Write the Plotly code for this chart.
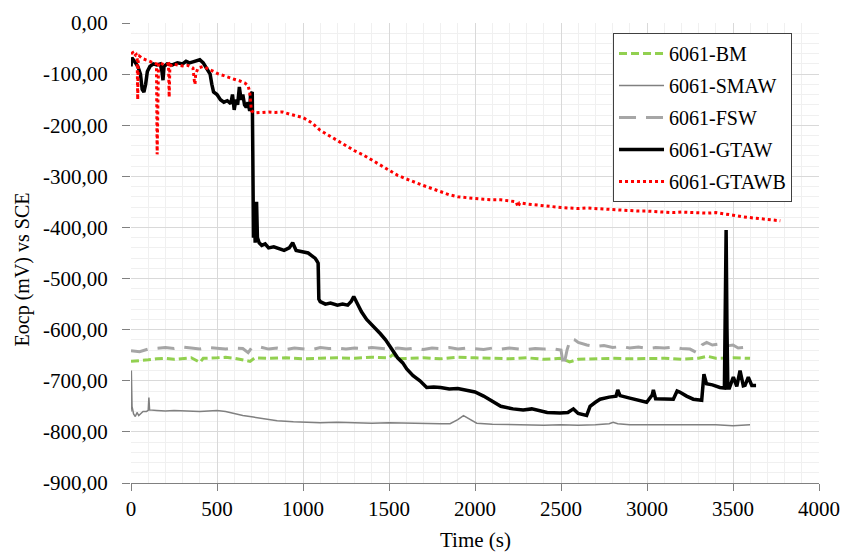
import plotly.graph_objects as go

# ---------------- data ----------------
bm_t = [0, 50, 100, 150, 200, 250, 300, 350, 401, 420, 500, 550, 600, 692, 720, 800, 900, 1000, 1100, 1200,
        1300, 1400, 1500, 1525, 1550, 1600, 1700, 1800, 1900, 2000, 2100, 2200, 2300, 2400, 2500, 2550, 2600,
        2700, 2800, 2900, 3000, 3100, 3200, 3300, 3350, 3400, 3500, 3599]
bm_v = [-662, -661, -659, -657, -656, -658, -656, -655, -664, -656, -655, -654, -656, -662, -655, -656, -655,
        -657, -656, -655, -656, -654, -655, -648, -657, -656, -655, -657, -654, -655, -656, -657, -655, -658,
        -656, -663, -658, -657, -656, -657, -657, -656, -658, -656, -652, -656, -655, -656]

smaw_t = [0, 2, 6, 15, 25, 35, 45, 55, 70, 90, 100, 104, 108, 150, 200, 250, 300, 350, 400, 450, 500, 550,
          600, 650, 711, 780, 850, 944, 1000, 1100, 1200, 1300, 1400, 1500, 1600, 1700, 1800, 1855, 1900, 1933,
          1970, 2010, 2100, 2200, 2300, 2400, 2500, 2600, 2700, 2780, 2803, 2830, 2900, 3000, 3100, 3200, 3300,
          3400, 3500, 3550, 3599]
smaw_v = [-760, -680, -750, -765, -770, -762, -768, -765, -760, -760, -758, -733, -757, -758, -759, -758, -759,
          -760, -760, -759, -758, -760, -764, -768, -771, -775, -778, -780, -781, -782, -781, -782, -783, -782,
          -783, -784, -784, -784, -776, -768, -776, -783, -785, -786, -786, -787, -786, -787, -786, -784, -781,
          -784, -786, -786, -787, -786, -787, -786, -788, -787, -786]

fsw_t = [0, 50, 100, 150, 200, 250, 300, 350, 400, 450, 500, 550, 600, 650, 681, 700, 750, 800, 850, 900, 950,
         1000, 1050, 1100, 1150, 1200, 1250, 1300, 1350, 1400, 1450, 1500, 1550, 1600, 1650, 1700, 1750, 1800,
         1850, 1900, 1950, 2000, 2050, 2100, 2150, 2200, 2250, 2300, 2350, 2400, 2450, 2500, 2515, 2535, 2555,
         2580, 2600, 2650, 2700, 2750, 2800, 2850, 2900, 2950, 3000, 3050, 3100, 3150, 3200, 3250, 3289, 3320,
         3347, 3380, 3420, 3460, 3500, 3530, 3560]
fsw_v = [-641, -643, -638, -636, -635, -637, -634, -636, -638, -635, -636, -638, -636, -637, -645, -636, -634,
         -638, -636, -639, -636, -637, -639, -635, -637, -636, -638, -636, -637, -635, -637, -638, -636, -638,
         -636, -639, -636, -637, -635, -638, -636, -637, -639, -636, -638, -636, -637, -639, -637, -638, -637,
         -640, -672, -640, -618, -620, -625, -630, -633, -631, -635, -633, -636, -634, -637, -635, -636, -634,
         -637, -638, -645, -630, -625, -630, -628, -632, -630, -636, -635]

gtaw_t = [0, 5, 20, 40, 55, 65, 75, 85, 95, 110, 130, 150, 170, 180, 186, 192, 210, 240, 270, 300, 320, 340,
          360, 380, 400, 420, 440, 460, 470, 480, 500, 520, 540, 560, 580, 590, 600, 610, 620, 630, 640, 650,
          660, 670, 680, 690, 695, 705, 708, 712, 718, 722, 730, 735, 745, 760, 780, 800, 830, 860, 890, 920,
          940, 960, 1000, 1030, 1050, 1070, 1080, 1088, 1092, 1100, 1130, 1160, 1200, 1230, 1260, 1280, 1295,
          1310, 1340, 1370, 1400, 1430, 1450, 1480, 1500, 1525, 1550, 1580, 1603, 1640, 1680, 1719, 1760, 1800,
          1850, 1900, 1950, 2000, 2050, 2105, 2150, 2221, 2280, 2330, 2378, 2420, 2494, 2540, 2572, 2600, 2649,
          2669, 2700, 2727, 2780, 2820, 2830, 2843, 2900, 2960, 2998, 3030, 3037, 3050, 3100, 3153, 3175, 3190,
          3230, 3269, 3318, 3331, 3346, 3380, 3424, 3450, 3455, 3460, 3465, 3470, 3479, 3502, 3522, 3541, 3560,
          3570, 3589, 3609, 3634]
gtaw_v = [-85, -68, -75, -85, -100, -130, -135, -120, -95, -85, -80, -82, -80, -95, -112, -85, -80, -82, -78,
          -80, -75, -78, -76, -74, -72, -78, -90, -100, -120, -135, -140, -150, -155, -152, -158, -140, -170,
          -150, -160, -125, -150, -140, -160, -165, -155, -172, -140, -135, -250, -420, -380, -430, -350, -420,
          -430, -435, -432, -440, -438, -442, -445, -440, -430, -445, -448, -450, -455, -460, -465, -470, -540,
          -545, -550, -548, -552, -550, -552, -545, -535, -545, -565, -580, -590, -600, -608, -620, -630, -644,
          -655, -665, -677, -690, -700, -713, -712, -713, -716, -715, -718, -722, -730, -742, -750, -755, -757,
          -755, -758, -762, -763, -762, -755, -764, -768, -750, -742, -736, -732, -730, -718, -729, -734, -738,
          -742, -728, -718, -735, -735, -736, -720, -722, -730, -736, -738, -687, -706, -708, -713, -714, -560,
          -405, -600, -714, -714, -693, -711, -680, -710, -709, -693, -709, -709]

gtawb_t = [0, 10, 20, 30, 36, 39, 42, 50, 70, 90, 110, 130, 148, 152, 156, 160, 180, 200, 218, 222, 226, 240,
           270, 300, 330, 360, 368, 372, 376, 390, 420, 450, 480, 510, 540, 570, 600, 630, 660, 680, 690, 700,
           720, 760, 800, 840, 880, 920, 960, 1000, 1050, 1100, 1150, 1200, 1250, 1300, 1350, 1400, 1450, 1500,
           1550, 1600, 1650, 1700, 1750, 1800, 1850, 1900, 1950, 2000, 2050, 2100, 2150, 2200, 2240, 2250, 2260,
           2300, 2350, 2400, 2450, 2500, 2550, 2600, 2650, 2700, 2750, 2800, 2850, 2900, 2950, 3000, 3050, 3100,
           3150, 3200, 3250, 3300, 3350, 3400, 3450, 3500, 3550, 3600, 3650, 3700, 3750, 3775]
gtawb_v = [-60, -58, -65, -62, -70, -150, -75, -65, -70, -72, -75, -78, -80, -257, -85, -78, -80, -82, -80,
           -145, -85, -80, -82, -84, -83, -88, -112, -120, -100, -88, -85, -90, -95, -100, -103, -107, -110,
           -113, -117, -122, -135, -172, -176, -175, -174, -175, -174, -178, -182, -185, -195, -210, -220, -230,
           -240, -250, -258, -268, -278, -288, -298, -305, -312, -318, -324, -330, -336, -340, -342, -344, -345,
           -346, -346, -348, -350, -360, -352, -354, -356, -358, -360, -361, -362, -363, -362, -363, -364, -366,
           -366, -367, -368, -368, -369, -370, -371, -370, -371, -372, -372, -371, -373, -376, -379, -381, -383,
           -384, -386, -387]

y_tickvals = [0, -100, -200, -300, -400, -500, -600, -700, -800, -900]
y_ticktext = ["0,00", "-100,00", "-200,00", "-300,00", "-400,00", "-500,00", "-600,00", "-700,00",
              "-800,00", "-900,00"]
x_tickvals = [0, 500, 1000, 1500, 2000, 2500, 3000, 3500, 4000]

FONT = "Liberation Serif"

fig = go.Figure()
fig.add_trace(go.Scatter(x=bm_t, y=bm_v, mode="lines", name="6061-BM", legendgroup="a",
                         line=dict(color="#92D050", width=3, dash="8px,4px")))
fig.add_trace(go.Scatter(x=smaw_t, y=smaw_v, mode="lines", name="6061-SMAW", legendgroup="b",
                         line=dict(color="#808080", width=1.5)))
fig.add_trace(go.Scatter(x=fsw_t, y=fsw_v, mode="lines", name="6061-FSW", legendgroup="c",
                         line=dict(color="#A6A6A6", width=3, dash="17px,10px")))
fig.add_trace(go.Scatter(x=gtaw_t, y=gtaw_v, mode="lines", name="6061-GTAW", legendgroup="d",
                         line=dict(color="#000000", width=3.5)))
fig.add_trace(go.Scatter(x=gtawb_t, y=gtawb_v, mode="lines", name="6061-GTAWB", legendgroup="e",
                         line=dict(color="#FF0000", width=3, dash="dot")))

fig.update_layout(
    width=842, height=554,
    margin=dict(l=131, r=23, t=23, b=71, autoexpand=False),
    paper_bgcolor="white", plot_bgcolor="white",
    font=dict(family=FONT, size=21, color="#000000"),
    showlegend=True,
    legend=dict(x=0.7006, y=0.978, xanchor="left", yanchor="top",
                bgcolor="white", bordercolor="#404040", borderwidth=1,
                font=dict(family=FONT, size=20, color="#000000"),
                tracegroupgap=3, itemwidth=45),
    xaxis=dict(range=[0, 4000], tickmode="array", tickvals=x_tickvals, automargin=False,
               showgrid=True, gridcolor="#D9D9D9", gridwidth=1, zeroline=False,
               showline=True, linecolor="#808080", linewidth=1,
               ticks="outside", ticklen=7, tickcolor="#808080",
               tickfont=dict(family=FONT, size=21, color="#000000"),
               minor=dict(tickmode="linear", tick0=0, dtick=100, showgrid=True, gridcolor="#F0F0F0")),
    yaxis=dict(range=[-900, 0], tickmode="array", tickvals=y_tickvals, ticktext=y_ticktext, automargin=False,
               showgrid=True, gridcolor="#D9D9D9", gridwidth=1, zeroline=False,
               showline=False,
               ticks="outside", ticklen=8, tickcolor="#808080", ticklabelstandoff=10,
               tickfont=dict(family=FONT, size=21, color="#000000"),
               minor=dict(tickmode="linear", tick0=0, dtick=20, showgrid=True, gridcolor="#F0F0F0")),
    annotations=[
        dict(text="Time (s)", xref="paper", yref="paper", x=0.5, y=-0.124,
             xanchor="center", yanchor="middle", showarrow=False,
             font=dict(family=FONT, size=21, color="#000000")),
        dict(text="Eocp (mV) vs SCE", xref="paper", yref="paper", x=-0.158, y=0.465,
             xanchor="center", yanchor="middle", textangle=-90, showarrow=False,
             font=dict(family=FONT, size=20, color="#000000")),
    ],
)

fig.write_html("out.html")
